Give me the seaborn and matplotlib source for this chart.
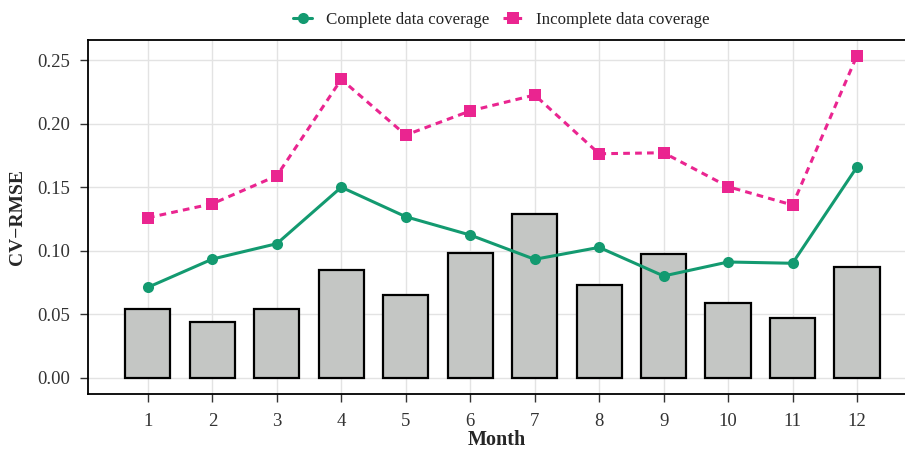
import numpy as np
import pandas as pd
import matplotlib
matplotlib.use('Agg')
import matplotlib.pyplot as plt
import seaborn as sns

# monthly CV-RMSE values
months = [1, 2, 3, 4, 5, 6, 7, 8, 9, 10, 11, 12]
bar_values = [0.0545, 0.0438, 0.054, 0.0847, 0.065, 0.098, 0.129, 0.0734, 0.0972, 0.0592, 0.0469, 0.0875]
complete_cov = [0.0713, 0.0935, 0.1056, 0.150, 0.1268, 0.1124, 0.0933, 0.1027, 0.0802, 0.0912, 0.0902, 0.1659]
incomplete_cov = [0.126, 0.137, 0.159, 0.2348, 0.191, 0.210, 0.2225, 0.1763, 0.1771, 0.1504, 0.136, 0.2534]
y_ticks = [0.00, 0.05, 0.10, 0.15, 0.20, 0.25]

df = pd.DataFrame({'Month': months, 'bars': bar_values,
                   'complete': complete_cov, 'incomplete': incomplete_cov})

sns.set_theme(style='white')
plt.rcParams['font.family'] = ['Liberation Serif', 'DejaVu Serif']
plt.rcParams['text.color'] = '#222222'

fig = plt.figure(figsize=(9.05, 4.5), dpi=100)
ax = fig.add_axes([0.0972, 0.1244, 0.9028, 0.7866])

green = '#139A70'
pink = '#EA2590'

sns.barplot(data=df, x='Month', y='bars', native_scale=True, width=0.7,
            color='#C4C6C4', edgecolor='black', linewidth=1.6, saturation=1,
            ax=ax, zorder=2)

sns.lineplot(data=df, x='Month', y='complete', color=green, linewidth=2.2,
             marker='o', markersize=8, markeredgewidth=0,
             label='Complete data coverage', ax=ax, zorder=3)
sns.lineplot(data=df, x='Month', y='incomplete', color=pink, linewidth=2.2,
             linestyle=(0, (2.2, 1.7)), marker='s', markersize=9, markeredgewidth=0,
             label='Incomplete data coverage', ax=ax, zorder=3)

ax.set_xlim(0.07, 12.745)
ax.set_ylim(-0.0126, 0.2657)
ax.set_xticks(months)
ax.set_xticklabels([str(m) for m in months])
ax.set_yticks(y_ticks)
ax.set_yticklabels([f'{v:.2f}' for v in y_ticks])

ax.grid(True, color='#E3E3E3', linewidth=1.0)
ax.set_axisbelow(True)
for s in ax.spines.values():
    s.set_visible(True)
    s.set_color('black')
    s.set_linewidth(1.3)
ax.spines['right'].set_visible(False)

ax.tick_params(axis='both', direction='out', length=5.5, width=1.0, color='#333333',
               labelsize=13.5, labelcolor='#333333', bottom=True, left=True)
ax.tick_params(axis='x', pad=8)
ax.tick_params(axis='y', pad=7.5)
ax.set_xlabel('Month', fontsize=14.5, fontweight='bold', labelpad=0)
ax.set_ylabel('CV\u2212RMSE', fontsize=14, fontweight='bold', labelpad=8)

ax.legend(loc='lower center', bbox_to_anchor=(0.506, 1.0), ncol=2, frameon=False,
          fontsize=12.2, handlelength=1.1, columnspacing=0.85, handletextpad=0.8,
          borderaxespad=0.3)

fig.savefig('out.png', dpi=100)
